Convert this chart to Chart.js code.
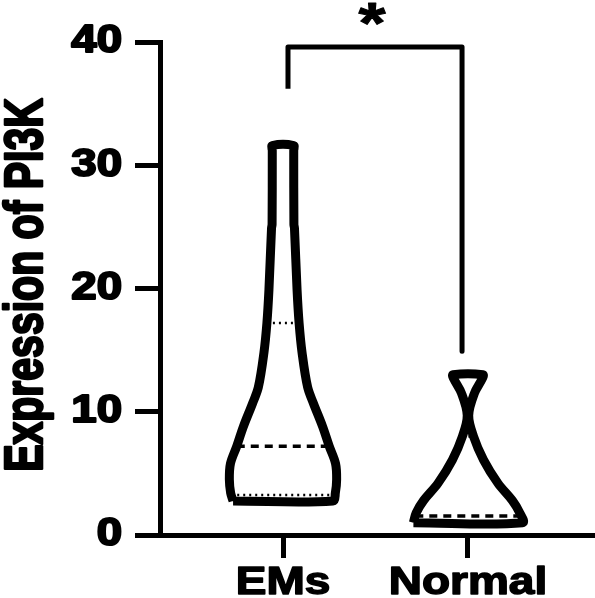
<!DOCTYPE html>
<html>
<head>
<meta charset="utf-8">
<script src="https://cdn.jsdelivr.net/npm/chart.js@4.4.1/dist/chart.umd.min.js"></script>
<style>
    html, body { margin: 0; padding: 0; background: #fff; }
    #wrap { width: 595px; height: 598px; }
</style>
</head>
<body>
<div id="wrap"><canvas id="violinChart"></canvas></div>
<script>
// categories sit at x = 1, 2 on a linear axis
const categories = ['EMs', 'Normal'];
const yTicks = [0, 10, 20, 30, 40];
const yTitle = 'Expression of PI3K';

// violin outlines: value levels and half widths (in category units)
const emsLevels = [2.76, 3.4, 4.5, 5.8, 7.2, 8.8, 10.7, 12.0, 14.8, 17.2, 19.9, 24.9, 25.2, 31.2, 31.6];
const emsHalfWidth = [0.27, 0.283, 0.29, 0.284, 0.25, 0.214, 0.164, 0.133, 0.103, 0.087, 0.076, 0.062, 0.059, 0.058, 0.058];
const normalLevels = [1.0, 1.8, 2.8, 4.2, 6.1, 8.0, 9.7, 11.5, 12.7, 13.0];
const normalHalfWidth = [0.295, 0.28, 0.24, 0.162, 0.084, 0.03, 0.004, 0.035, 0.078, 0.081];

// lower quartile, median, upper quartile
const emsQuartiles = [3.25, 7.2, 17.2];
const normalQuartiles = [1.1, 1.55, 8.0];

// significance bracket
const sigMark = '*';
const bracketX = [1.027, 1.968];
const bracketY = [36.2, 39.6, 14.9]; // left foot, top, right foot

const FONT = '"Liberation Sans", Arial, sans-serif';

// half width at a given level, from the outline arrays
const widthAt = (levels, widths, v) => {
    for (let i = 0; i < levels.length - 1; i++) {
        if (v >= levels[i] && v <= levels[i + 1]) {
            const t = (v - levels[i]) / (levels[i + 1] - levels[i]);
            return widths[i] + t * (widths[i + 1] - widths[i]);
        }
    }
    return v < levels[0] ? widths[0] : widths[widths.length - 1];
};

const outline = (center, levels, widths) => {
    const pts = [];
    for (let i = 0; i < levels.length; i++) pts.push({ x: center - widths[i], y: levels[i] });
    for (let i = levels.length - 1; i >= 0; i--) pts.push({ x: center + widths[i], y: levels[i] });
    pts.push(pts[0]);
    return pts;
};

const violinSet = (center, levels, widths) => ({
    data: outline(center, levels, widths),
    showLine: true,
    borderColor: '#000',
    borderWidth: 9,
    borderJoinStyle: 'round',
    pointRadius: 0,
    tension: 0.35,
    fill: false,
    clip: false
});

const quartileSets = (center, levels, widths, q) => q.map((v, i) => {
    const w = widthAt(levels, widths, v);
    const median = i === 1;
    return {
        data: [{ x: center - w, y: v }, { x: center + w, y: v }],
        showLine: true,
        borderColor: '#000',
        borderWidth: median ? 3.5 : 2.5,
        borderDash: median ? [8, 6] : [2, 4],
        pointRadius: 0,
        fill: false,
        clip: false
    };
});

const datasets = [
    violinSet(1, emsLevels, emsHalfWidth),
    violinSet(2, normalLevels, normalHalfWidth),
    {
        data: [
            { x: bracketX[0], y: bracketY[0] },
            { x: bracketX[0], y: bracketY[1] },
            { x: bracketX[1], y: bracketY[1] },
            { x: bracketX[1], y: bracketY[2] }
        ],
        showLine: true,
        borderColor: '#000',
        borderWidth: 5,
        borderJoinStyle: 'round',
        pointRadius: 0,
        tension: 0,
        fill: false,
        clip: false
    },
    ...quartileSets(1, emsLevels, emsHalfWidth, emsQuartiles),
    ...quartileSets(2, normalLevels, normalHalfWidth, normalQuartiles)
];

// text is drawn slightly stretched sideways and heavier, as in the figure
const stretchText = (ctx, text, x, y, sx, align, weight) => {
    ctx.save();
    ctx.translate(x, y);
    ctx.scale(sx, 1);
    ctx.textAlign = align;
    ctx.lineWidth = weight;
    ctx.lineJoin = 'round';
    ctx.strokeText(text, 0, 0);
    ctx.fillText(text, 0, 0);
    ctx.restore();
};

const labelPlugin = {
    id: 'labels',
    afterDraw(chart) {
        const { ctx, scales: { x, y } } = chart;
        ctx.save();
        ctx.fillStyle = '#000';
        ctx.strokeStyle = '#000';

        // y tick labels
        ctx.font = `bold 38px ${FONT}`;
        ctx.textBaseline = 'middle';
        yTicks.forEach(v => stretchText(ctx, String(v), 122, y.getPixelForValue(v), 1.2, 'right', 2));

        // category labels
        ctx.font = `bold 39px ${FONT}`;
        ctx.textBaseline = 'alphabetic';
        categories.forEach((c, i) => stretchText(ctx, c, x.getPixelForValue(i + 1), 594, 1.18, 'center', 1.5));

        // axis title
        ctx.save();
        ctx.translate(42, 285);
        ctx.rotate(-Math.PI / 2);
        ctx.scale(1, 1.3);
        ctx.font = `bold 41px ${FONT}`;
        ctx.textAlign = 'center';
        ctx.lineWidth = 2;
        ctx.lineJoin = 'round';
        ctx.strokeText(yTitle, 0, 0);
        ctx.fillText(yTitle, 0, 0);
        ctx.restore();

        // significance star
        ctx.font = `bold 58px ${FONT}`;
        const sx = x.getPixelForValue((bracketX[0] + bracketX[1]) / 2);
        stretchText(ctx, sigMark, sx - 3, y.getPixelForValue(bracketY[1]) - 4, 1.2, 'center', 1);
        ctx.restore();
    }
};

new Chart(document.getElementById('violinChart'), {
    type: 'scatter',
    data: { datasets },
    options: {
        responsive: true,
        maintainAspectRatio: false,
        animation: false,
        layout: { padding: { left: 135, right: 2, top: 42, bottom: 40 } },
        plugins: {
            legend: { display: false },
            tooltip: { enabled: false }
        },
        scales: {
            x: {
                type: 'linear',
                min: 0.335,
                max: 2.676,
                afterBuildTicks: (axis) => { axis.ticks = categories.map((c, i) => ({ value: i + 1 })); },
                ticks: { display: false },
                grid: { drawOnChartArea: false, drawTicks: true, tickLength: 23, lineWidth: 5, color: '#000' },
                border: { display: true, width: 5, color: '#000' }
            },
            y: {
                min: 0,
                max: 40,
                afterBuildTicks: (axis) => { axis.ticks = yTicks.map(v => ({ value: v })); },
                ticks: { display: false },
                grid: { drawOnChartArea: false, drawTicks: true, tickLength: 25, lineWidth: 5, color: '#000' },
                border: { display: true, width: 5, color: '#000' }
            }
        }
    },
    plugins: [labelPlugin]
});
</script>
</body>
</html>
